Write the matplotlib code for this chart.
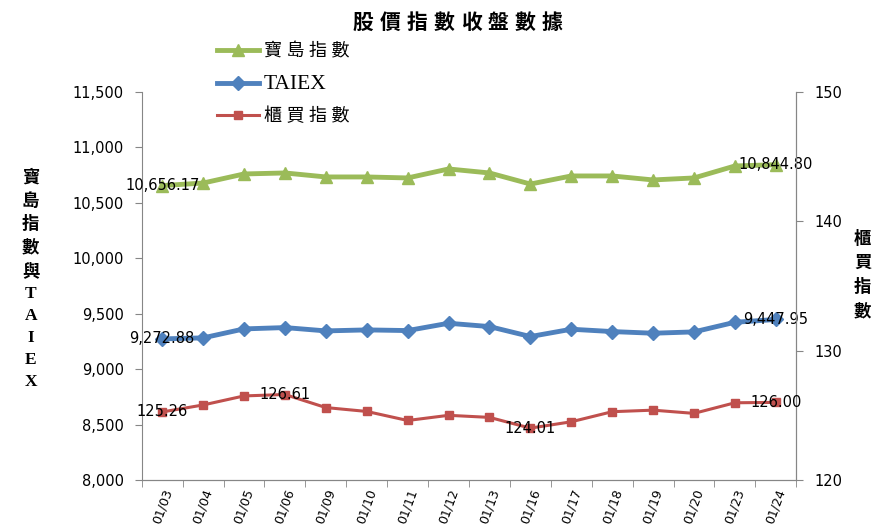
import numpy as np
import matplotlib.pyplot as plt
import matplotlib.ticker as mticker

plt.rcParams['font.family'] = ['DejaVu Sans', 'Noto Sans CJK TC']

# 資料
fechas = ['01/03', '01/04', '01/05', '01/06', '01/09', '01/10', '01/11', '01/12',
          '01/13', '01/16', '01/17', '01/18', '01/19', '01/20', '01/23', '01/24']
baodao = [10656.17, 10679, 10761, 10770, 10734, 10734, 10725, 10806,
          10770, 10670, 10743, 10743, 10707, 10725, 10833, 10844.80]
taiex = [9272.88, 9282, 9363, 9375, 9345, 9354, 9348, 9414,
         9384, 9294, 9360, 9339, 9324, 9336, 9423, 9447.95]
otc = [125.26, 125.8, 126.5, 126.61, 125.6, 125.3, 124.6, 125.0,
       124.84, 124.01, 124.5, 125.28, 125.4, 125.15, 125.97, 126.00]
etiquetas_izq = [0, 15]
etiquetas_der = [0, 3, 9, 15]
titulo = '股價指數收盤數據'

verde = '#9BBB59'
azul = '#4F81BD'
rojo = '#C0504D'
gris = '#868686'

x = np.arange(len(fechas))

fig = plt.figure(figsize=(8.75, 5.26), dpi=100)
ax = fig.add_axes([0.162, 0.0875, 0.748, 0.7375])
ax2 = ax.twinx()

l1, = ax.plot(x, baodao, '-^', color=verde, lw=3.5, ms=9, label='寶 島 指 數')
l2, = ax.plot(x, taiex, '-D', color=azul, lw=3.5, ms=7.5, label='TAIEX')
l3, = ax2.plot(x, otc, '-s', color=rojo, lw=2.2, ms=6, label='櫃 買 指 數')

for i in etiquetas_izq:
    ax.text(x[i], baodao[i], f'{baodao[i]:,.2f}', ha='center', va='center', fontsize=10.5)
    ax.text(x[i], taiex[i], f'{taiex[i]:,.2f}', ha='center', va='center', fontsize=10.5)
for i in etiquetas_der:
    ax2.text(x[i], otc[i], f'{otc[i]:.2f}', ha='center', va='center', fontsize=10.5)

ax.set_xlim(-0.5, 15.5)
ax.set_ylim(8000, 11500)
ax.set_yticks(np.arange(8000, 11501, 500))
ax.yaxis.set_major_formatter(mticker.FuncFormatter(lambda v, p: f'{v:,.0f}'))
ax2.set_ylim(120, 150)
ax2.set_yticks([120, 130, 140, 150])

ax.set_xticks(x)
ax.set_xticklabels(fechas, rotation=70, ha='right', rotation_mode='anchor', fontsize=9)
ax.set_xticks(np.arange(-0.5, 16, 1), minor=True)
ax.tick_params(axis='x', which='major', length=0, pad=5)
ax.tick_params(axis='x', which='minor', length=5, color=gris, direction='out')
ax.tick_params(axis='y', length=5, color=gris, direction='out', labelsize=10.5, pad=8)
ax2.tick_params(axis='y', length=5, color=gris, direction='out', labelsize=10.5, pad=8)

for a in (ax, ax2):
    a.spines['top'].set_visible(False)
    for s in ('left', 'right', 'bottom'):
        a.spines[s].set_color(gris)
ax2.spines['left'].set_visible(False)

# título con espaciado entre caracteres
for k, ch in enumerate(titulo):
    fig.text((363 + 27 * k) / 875, 0.958, ch, ha='center', va='center', fontsize=15,
             fontweight='bold', family=['Noto Sans CJK TC'])

fig.text(0.035, 0.468, '\n'.join('寶島指數與TAIEX'), ha='center', va='center',
         fontsize=12.5, fontweight='bold', linespacing=1.5,
         family=['Liberation Serif', 'Noto Sans CJK TC'])
fig.text(0.986, 0.477, '\n'.join('櫃買指數'), ha='center', va='center',
         fontsize=12.5, fontweight='bold', linespacing=1.42,
         family=['Noto Sans CJK TC'])

leg = fig.legend(handles=[l1, l2, l3], loc='upper left', bbox_to_anchor=(0.248, 0.917),
                 frameon=False, labelspacing=0.78, handlelength=2.3,
                 handletextpad=0.3, borderpad=0, borderaxespad=0,
                 prop={'family': ['Liberation Serif', 'Noto Sans CJK TC'], 'size': 13})
leg.get_texts()[1].set_fontsize(15.5)

fig.savefig('out.png', dpi=100)
